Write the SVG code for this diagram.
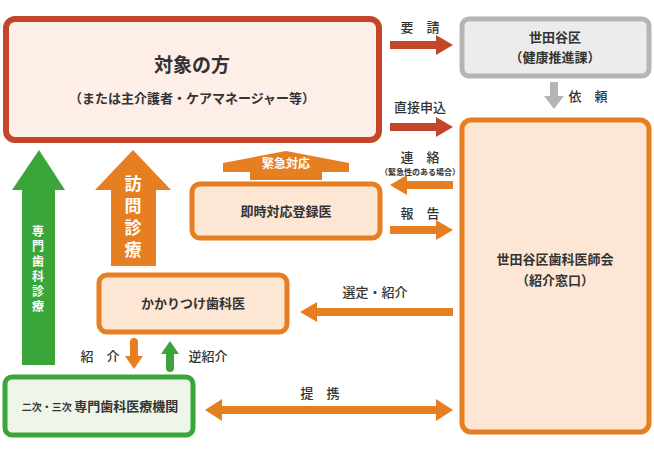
<svg xmlns="http://www.w3.org/2000/svg" width="654" height="453" viewBox="0 0 654 453">
<style>
text{font-family:"Noto Sans CJK JP","Noto Sans CJK SC",sans-serif;font-weight:bold;fill:#333;text-anchor:middle}
.w{fill:#fff}
.v{writing-mode:vertical-rl}
.o{fill:#e67e22}
.lbl{font-size:13px;font-weight:500}
</style>
<g id="target"><rect x="6" y="19" width="373" height="121" rx="9" fill="#fdeee8" stroke="#c3462b" stroke-width="6"/>
<text x="192" y="72" font-size="19">対象の方</text><text x="192" y="103" font-size="13">（または主介護者・ケアマネージャー等）</text></g>
<g id="setagaya"><rect x="462" y="19" width="187" height="57" rx="7" fill="#ececec" stroke="#b5b5b5" stroke-width="5"/>
<text x="555" y="42" font-size="13">世田谷区</text><text x="555" y="62" font-size="13">（健康推進課）</text></g>
<g id="assoc"><rect x="462" y="120" width="187" height="312" rx="9" fill="#fde6d3" stroke="#e67e22" stroke-width="5"/>
<text x="555" y="264" font-size="13">世田谷区歯科医師会</text><text x="555" y="285" font-size="13">（紹介窓口）</text></g>
<g id="sokuji"><rect x="192" y="184" width="188" height="54" rx="8" fill="#fde6d3" stroke="#e67e22" stroke-width="5"/>
<text x="286" y="216" font-size="13">即時対応登録医</text></g>
<g id="kakari"><rect x="99" y="275" width="188" height="57" rx="8" fill="#fde6d3" stroke="#e67e22" stroke-width="5"/>
<text x="193" y="308" font-size="13">かかりつけ歯科医</text></g>
<g id="senmon"><rect x="5" y="377" width="188" height="58" rx="7" fill="#eef5e9" stroke="#3aa63a" stroke-width="5"/>
<text x="100" y="411" font-size="13"><tspan font-size="10">二次・三次 </tspan>専門歯科医療機関</text></g>
<g id="connectors">
<path d="M390 41h46v-6l17 10-17 10v-6h-46z" fill="#c3462b"/>
<text class="lbl" x="420" y="32">要　請</text>
<path d="M390 123h46v-6l17 10-17 10v-6h-46z" fill="#c3462b"/>
<text class="lbl" x="420" y="112">直接申込</text>
<path d="M550 82h8v14h6l-10 13-10-13h6z" fill="#b5b5b5"/>
<text class="lbl" x="588" y="101">依　頼</text>
<path class="o" d="M453 181h-46v-6l-17 10 17 10v-6h46z"/>
<text class="lbl" x="420" y="162">連　絡</text>
<text x="420" y="175" font-size="8" font-weight="normal">（緊急性のある場合）</text>
<text class="lbl" x="420" y="218">報　告</text>
<path class="o" d="M390 226h46v-6l17 10-17 10v-6h-46z"/>
<text class="lbl" x="375" y="297">選定・紹介</text>
<path class="o" d="M453 308h-136v-6l-17 10 17 10v-6h136z"/>
<text class="lbl" x="320" y="398">提　携</text>
<path class="o" d="M205 410l17-11v7h214v-7l17 11-17 11v-7h-214v7z"/>
<path d="M22 365V190h-10l27-40 26 40h-10v175z" fill="#3aa63a"/>
<text class="w v" x="38" y="270" font-size="12" letter-spacing="3">専門歯科診療</text>
<path class="o" d="M111 266V190h-16l38-40 38 40h-15v76z"/>
<text class="w v" x="133" y="219" font-size="17" letter-spacing="5">訪問診療</text>
<path class="o" d="M223 172v-9l63-12 63 12v9h-27v8h-72v-8z"/>
<text class="w" x="286" y="168" font-size="12">緊急対応</text>
<path class="o" d="M130 342a4 4 0 0 1 8 0v14h5l-9 13-9-13h5z"/>
<path d="M166 368a4 4 0 0 0 8 0v-14h5l-9-13-9 13h5z" fill="#3aa63a"/>
<text class="lbl" x="100" y="361">紹　介</text>
<text class="lbl" x="208" y="361">逆紹介</text>
</g>
</svg>
